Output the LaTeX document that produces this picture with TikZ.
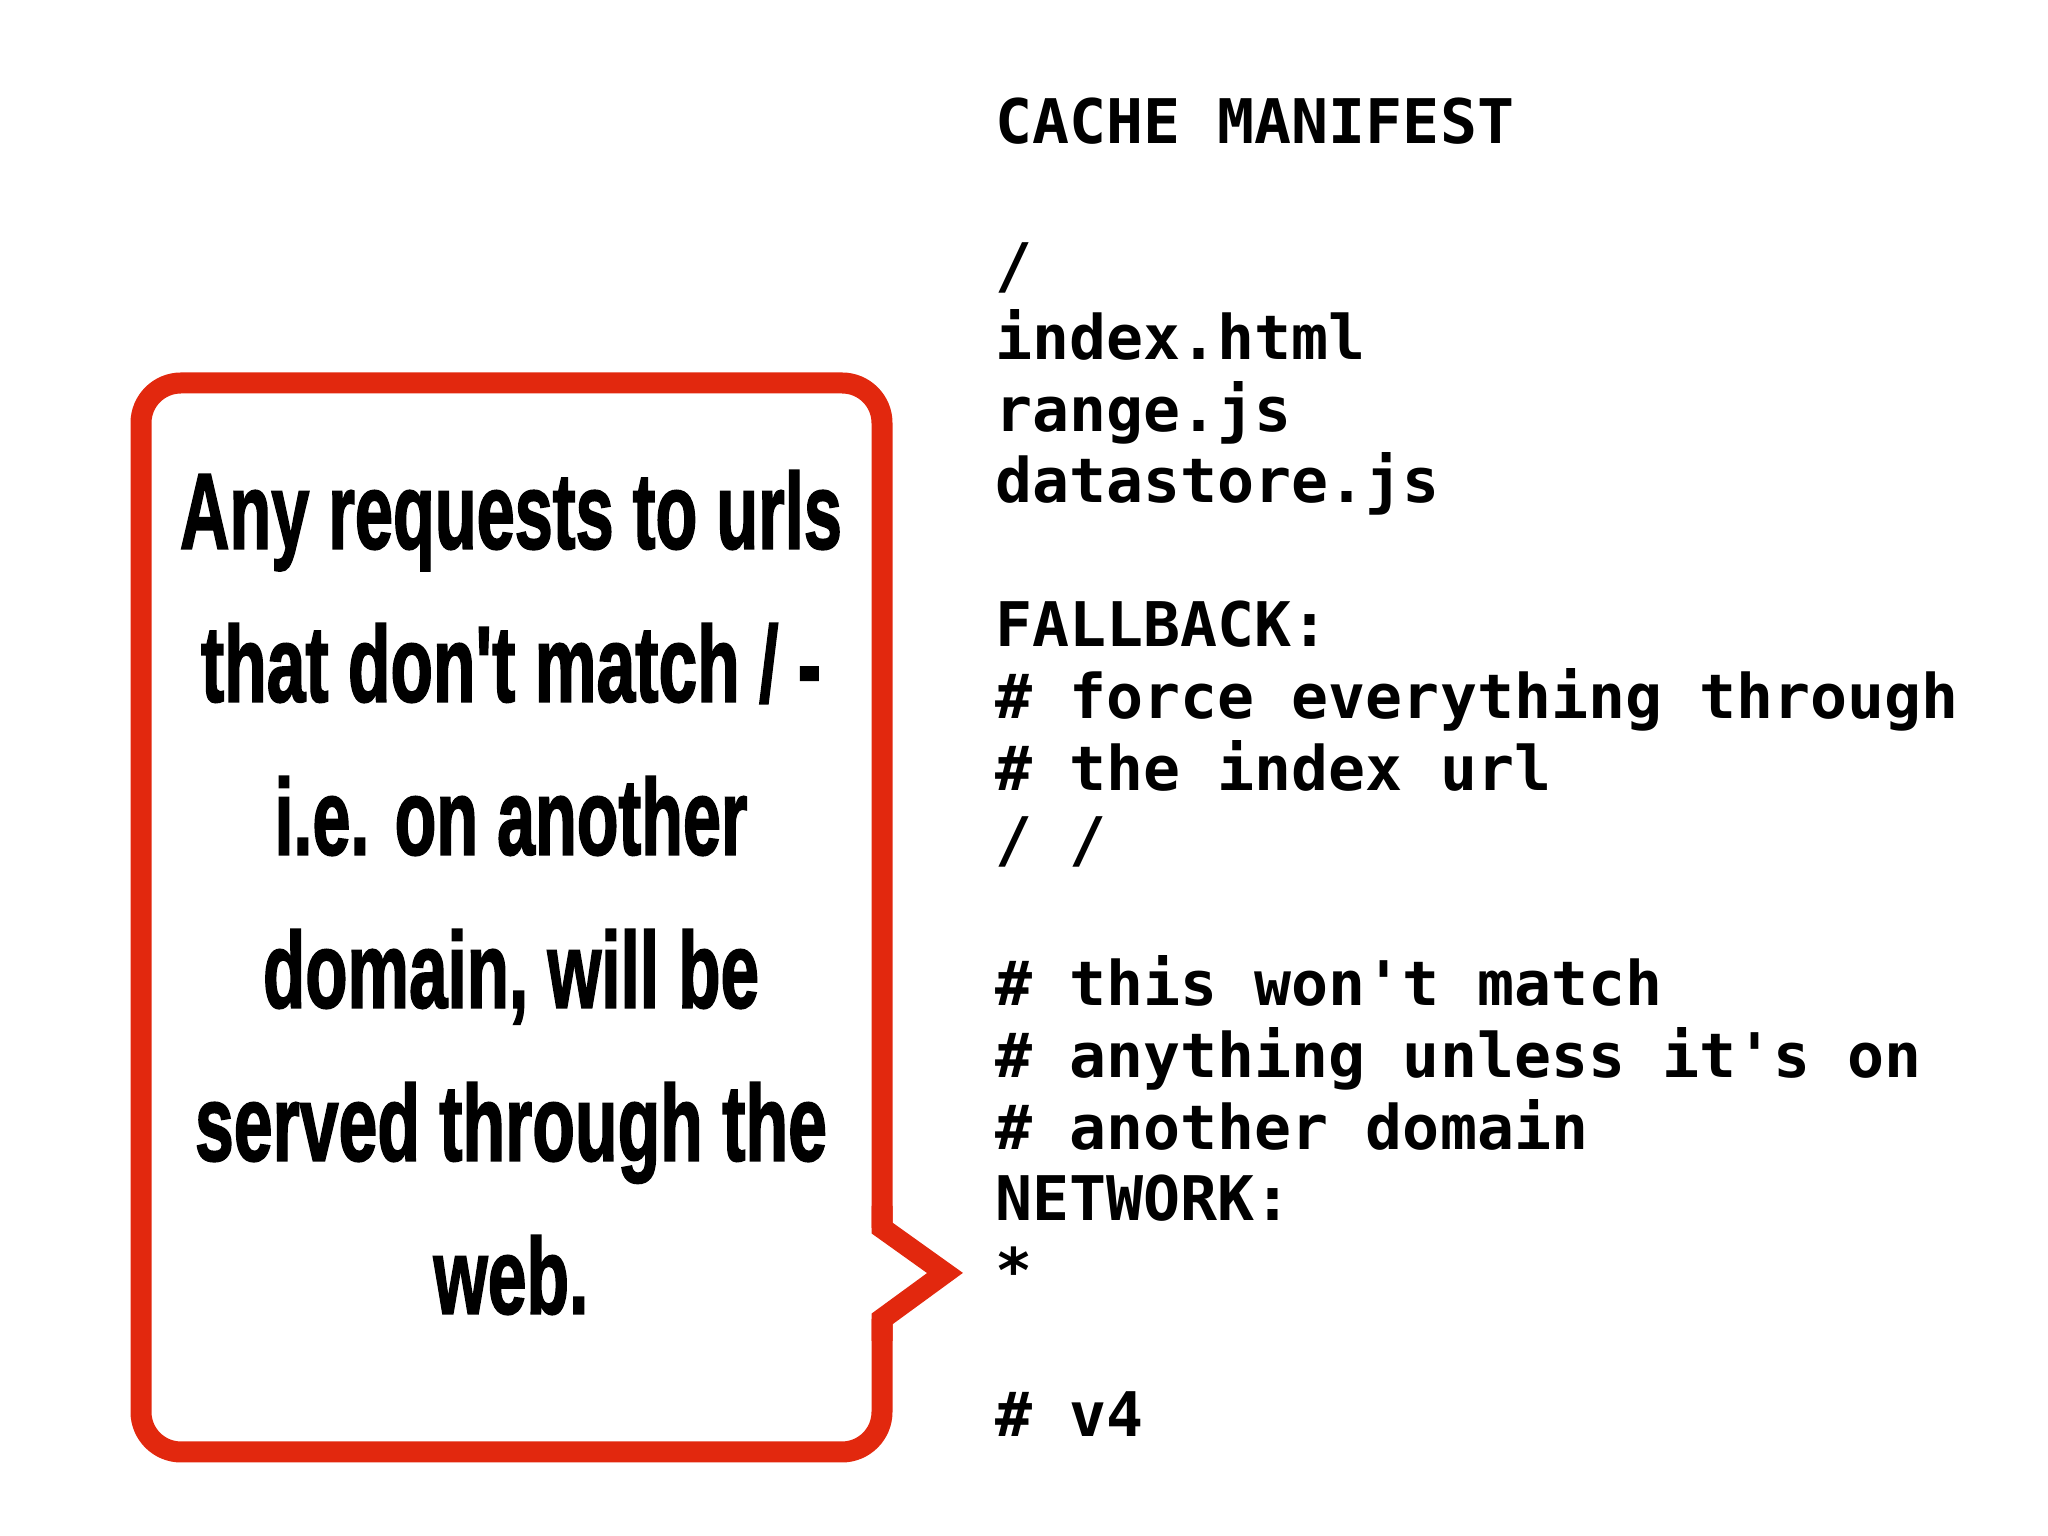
\documentclass[tikz,border=0pt]{standalone}
\usepackage{fontspec}
\newfontfamily\codefont{DejaVu Sans Mono}[BoldFont={* Bold}]
\newfontfamily\callfont{Liberation Sans}[FakeBold=2]
\begin{document}
\begin{tikzpicture}
\useasboundingbox (0,0) rectangle (20.48,15.36);
\tikzset{codeline/.style={anchor=base west,inner sep=0pt,font=\codefont\bfseries\fontsize{17.5}{20}\selectfont},
 callline/.style={anchor=base,inner sep=0pt,font=\callfont\bfseries\fontsize{31}{34}\selectfont}}
\foreach \i/\t [count=\n] in {0/CACHE MANIFEST,2/{/},3/index.html,4/range.js,5/datastore.js,7/FALLBACK:,8/\# force everything through,9/\# the index url,10/{/ /},12/\# this won't match,13/\# anything unless it's on,14/\# another domain,15/NETWORK:,16/*,18/\# v4}
  \node[codeline] (c\n) at (9.95,{13.92-0.718*\i}) {\t};
\draw[line width=0.21cm,color={rgb,255:red,226;green,40;blue,14},rounded corners=0.4cm,line join=miter]
  (8.82,3.08) -- (8.82,11.53) -- (1.41,11.53) -- (1.41,0.84) -- (8.82,0.84) -- (8.82,2.17);
\draw[line width=0.21cm,color={rgb,255:red,226;green,40;blue,14},line join=miter]
  (8.82,3.3) -- (8.82,3.08) -- (9.45,2.63) -- (8.82,2.17) -- (8.82,1.95);
\foreach \i/\t/\w in {0/{Any requests to urls}/6.62,1/{that don't match / -}/6.2,2/{i.e. on another}/4.73,3/{domain, will be}/4.96,4/{served through the}/6.32,5/{web.}/1.55}
  \node[callline] (t\i) at (5.11,{9.875-1.53*\i}) {\resizebox{\w cm}{0.78cm}{\t}};
\end{tikzpicture}
\end{document}
